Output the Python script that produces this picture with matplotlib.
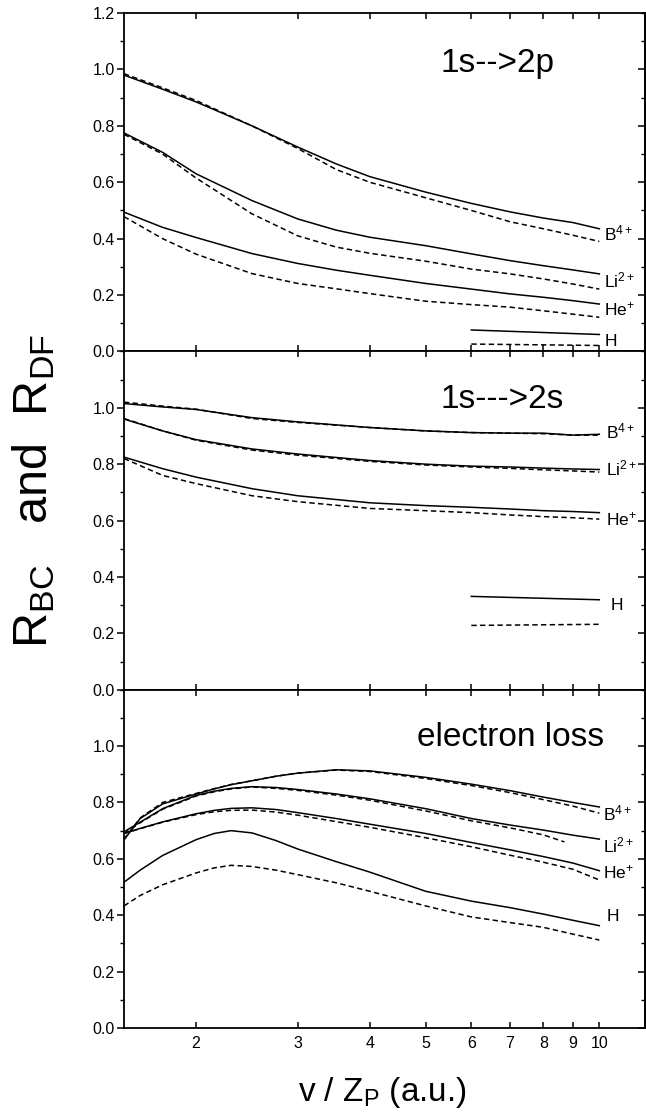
import numpy as np
import matplotlib
matplotlib.use("Agg")
import matplotlib.pyplot as plt
from matplotlib.ticker import MultipleLocator, NullLocator

plt.rcParams['font.family'] = ['Liberation Sans', 'DejaVu Sans']
plt.rcParams['mathtext.fontset'] = 'custom'
plt.rcParams['mathtext.rm'] = 'Liberation Sans'
plt.rcParams['mathtext.it'] = 'Liberation Sans:italic'

# ---- 1s -> 2p ----
x_2p = [1.5, 1.75, 2, 2.5, 3, 3.5, 4, 5, 6, 7, 8, 9, 10]
b_2p_bc = [0.98, 0.93, 0.885, 0.80, 0.725, 0.665, 0.62, 0.565, 0.525, 0.495, 0.473, 0.457, 0.435]
b_2p_df = [0.985, 0.935, 0.89, 0.80, 0.72, 0.645, 0.60, 0.545, 0.50, 0.46, 0.435, 0.412, 0.39]
li_2p_bc = [0.775, 0.706, 0.63, 0.535, 0.47, 0.43, 0.405, 0.375, 0.346, 0.322, 0.304, 0.289, 0.275]
li_2p_df = [0.77, 0.70, 0.615, 0.488, 0.41, 0.37, 0.348, 0.32, 0.292, 0.275, 0.257, 0.239, 0.221]
he_2p_bc = [0.494, 0.44, 0.404, 0.347, 0.312, 0.288, 0.27, 0.241, 0.221, 0.204, 0.192, 0.18, 0.168]
he_2p_df = [0.478, 0.40, 0.345, 0.276, 0.241, 0.222, 0.205, 0.178, 0.166, 0.157, 0.144, 0.132, 0.121]
x_h_2p = [6, 10]
h_2p_bc = [0.076, 0.06]
h_2p_df = [0.026, 0.021]

# ---- 1s -> 2s ----
x_2s = [1.5, 1.75, 2, 2.5, 3, 4, 5, 6, 7, 8, 9, 10]
b_2s_bc = [1.015, 1.003, 0.994, 0.965, 0.95, 0.93, 0.918, 0.912, 0.91, 0.91, 0.903, 0.906]
b_2s_df = [1.02, 1.006, 0.995, 0.962, 0.948, 0.93, 0.918, 0.912, 0.91, 0.908, 0.903, 0.903]
li_2s_bc = [0.96, 0.918, 0.887, 0.854, 0.836, 0.813, 0.80, 0.793, 0.79, 0.786, 0.783, 0.781]
li_2s_df = [0.962, 0.918, 0.885, 0.85, 0.832, 0.81, 0.797, 0.79, 0.785, 0.78, 0.776, 0.772]
he_2s_bc = [0.825, 0.784, 0.754, 0.713, 0.688, 0.663, 0.653, 0.647, 0.641, 0.635, 0.632, 0.628]
he_2s_df = [0.82, 0.76, 0.731, 0.688, 0.667, 0.643, 0.635, 0.628, 0.62, 0.614, 0.61, 0.605]
x_h_2s = [6, 10]
h_2s_bc = [0.331, 0.319]
h_2s_df = [0.228, 0.232]

# ---- electron loss ----
x_el = [1.5, 1.6, 1.75, 2, 2.15, 2.3, 2.5, 2.75, 3, 3.5, 4, 5, 6, 7, 8, 9, 10]
b_el_bc = [0.667, 0.743, 0.795, 0.83, 0.848, 0.863, 0.877, 0.893, 0.904, 0.916, 0.912, 0.889, 0.865, 0.842, 0.819, 0.80, 0.784]
b_el_df = [0.67, 0.745, 0.80, 0.832, 0.849, 0.864, 0.877, 0.893, 0.904, 0.915, 0.91, 0.885, 0.86, 0.835, 0.81, 0.787, 0.762]
li_el_bc = [0.696, 0.73, 0.778, 0.825, 0.84, 0.85, 0.856, 0.853, 0.846, 0.83, 0.813, 0.778, 0.743, 0.72, 0.702, 0.684, 0.67]
x_li_el_df = [1.5, 1.6, 1.75, 2, 2.15, 2.3, 2.5, 2.75, 3, 3.5, 4, 5, 6, 7, 8, 8.7]
li_el_df = [0.69, 0.728, 0.776, 0.823, 0.838, 0.848, 0.855, 0.85, 0.843, 0.826, 0.808, 0.77, 0.735, 0.71, 0.685, 0.66]
he_el_bc = [0.69, 0.708, 0.731, 0.76, 0.772, 0.779, 0.781, 0.775, 0.764, 0.743, 0.723, 0.69, 0.658, 0.632, 0.608, 0.585, 0.558]
he_el_df = [0.69, 0.707, 0.73, 0.757, 0.767, 0.772, 0.773, 0.766, 0.755, 0.732, 0.712, 0.675, 0.643, 0.613, 0.588, 0.563, 0.525]
h_el_bc = [0.517, 0.56, 0.612, 0.668, 0.69, 0.70, 0.692, 0.665, 0.635, 0.59, 0.553, 0.485, 0.45, 0.427, 0.404, 0.382, 0.363]
h_el_df = [0.433, 0.47, 0.508, 0.55, 0.568, 0.577, 0.573, 0.56, 0.544, 0.515, 0.485, 0.433, 0.394, 0.374, 0.357, 0.333, 0.312]

ion_labels = ['B$^{4+}$', 'Li$^{2+}$', 'He$^{+}$', 'H']
label_y_2p = [0.42, 0.25, 0.15, 0.035]
label_y_2s = [0.915, 0.784, 0.603, 0.30]
label_y_el = [0.762, 0.649, 0.553, 0.394]

dash = (0, (3.5, 2.2))
lw = 1.1

fig = plt.figure(figsize=(6.46, 11.12), dpi=100)
left, width = 124 / 646, 521 / 646
h = 338.3 / 1112
bottoms = [1 - 1028 / 1112 + 2 * h, 1 - 1028 / 1112 + h, 1 - 1028 / 1112]
axes = [fig.add_axes([left, b, width, h]) for b in bottoms]

panels = [
    (axes[0], x_2p, [(b_2p_bc, b_2p_df), (li_2p_bc, li_2p_df), (he_2p_bc, he_2p_df)],
     x_h_2p, h_2p_bc, h_2p_df, label_y_2p, '1s-->2p', 5.3, 1.02, 10.2),
    (axes[1], x_2s, [(b_2s_bc, b_2s_df), (li_2s_bc, li_2s_df), (he_2s_bc, he_2s_df)],
     x_h_2s, h_2s_bc, h_2s_df, label_y_2s, '1s--->2s', 5.3, 1.03, 10.25),
]

for ax, xs, pairs, xh, hbc, hdf, ly, title, tx, ty, lx in panels:
    for bc, df in pairs:
        ax.plot(xs, bc, color='black', lw=lw)
        ax.plot(xs, df, color='black', lw=lw, linestyle=dash)
    ax.plot(xh, hbc, color='black', lw=lw)
    ax.plot(xh, hdf, color='black', lw=lw, linestyle=dash)
    for lab, yy in zip(ion_labels, ly):
        ax.text(lx if lab != 'H' or ax is axes[0] else 10.45, yy, lab, fontsize=12.5, va='center', ha='left')
    ax.text(tx, ty, title, fontsize=24, va='center', ha='left')

ax = axes[2]
ax.plot(x_el, b_el_bc, color='black', lw=lw)
ax.plot(x_el, b_el_df, color='black', lw=lw, linestyle=dash)
ax.plot(x_el, li_el_bc, color='black', lw=lw)
ax.plot(x_li_el_df, li_el_df, color='black', lw=lw, linestyle=dash)
ax.plot(x_el, he_el_bc, color='black', lw=lw)
ax.plot(x_el, he_el_df, color='black', lw=lw, linestyle=dash)
ax.plot(x_el, h_el_bc, color='black', lw=lw)
ax.plot(x_el, h_el_df, color='black', lw=lw, linestyle=dash)
for lab, yy in zip(ion_labels, label_y_el):
    ax.text(10.15 if lab != 'H' else 10.3, yy, lab, fontsize=12.5, va='center', ha='left')
ax.text(4.83, 1.03, 'electron loss', fontsize=24, va='center', ha='left')

xt = [2, 3, 4, 5, 6, 7, 8, 9, 10]
for i, ax in enumerate(axes):
    ax.set_xscale('log')
    ax.set_xlim(1.5, 12)
    ax.set_ylim(0, 1.2)
    ax.set_xticks(xt)
    ax.xaxis.set_minor_locator(NullLocator())
    ax.set_xticklabels([str(v) for v in xt])
    if i < 2:
        ax.tick_params(axis='x', labelbottom=False)
    if i == 0:
        ax.set_yticks([0, 0.2, 0.4, 0.6, 0.8, 1.0, 1.2])
        ax.set_yticklabels(['0.0', '0.2', '0.4', '0.6', '0.8', '1.0', '1.2'])
    else:
        ax.set_yticks([0, 0.2, 0.4, 0.6, 0.8, 1.0])
        ax.set_yticklabels(['0.0', '0.2', '0.4', '0.6', '0.8', '1.0'])
    ax.yaxis.set_minor_locator(MultipleLocator(0.1))
    ax.tick_params(axis='x', which='both', direction='in', top=True, length=4.5, width=1.1,
                   labelsize=11.5, pad=6)
    ax.tick_params(axis='y', which='major', direction='out', length=5, width=1.1, labelsize=11.5, pad=1.5)
    ax.tick_params(axis='y', which='minor', direction='out', length=3, width=1.0)
    for sp in ax.spines.values():
        sp.set_linewidth(1.3)

# right-side ticks pointing inward
for ax in axes:
    sec = ax.secondary_yaxis('right')
    sec.set_yticks([0, 0.2, 0.4, 0.6, 0.8, 1.0])
    sec.yaxis.set_minor_locator(MultipleLocator(0.1))
    sec.tick_params(which='major', direction='in', length=5, width=1.1, labelright=False)
    sec.tick_params(which='minor', direction='in', length=3, width=1.0)
    sec.spines['right'].set_linewidth(1.3)

fig.text(382 / 646, 1 - 1092 / 1112, 'v / Z$_{\\mathrm{P}}$ (a.u.)', fontsize=24, ha='center', va='center')
fig.text(34 / 646, 1 - 491 / 1112, 'R$_{\\mathrm{BC}}$   and  R$_{\\mathrm{DF}}$', fontsize=35,
         rotation=90, ha='center', va='center')

fig.savefig('out.png', dpi=100)
